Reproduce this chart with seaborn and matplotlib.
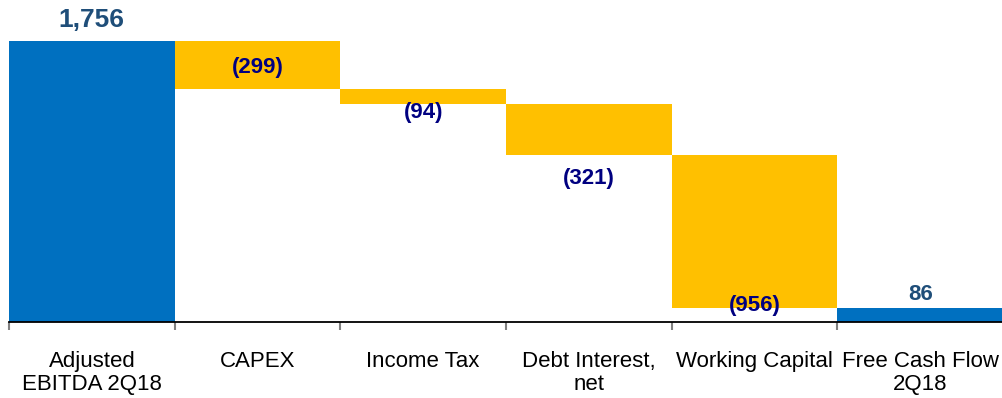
import matplotlib
matplotlib.use("Agg")
import matplotlib.pyplot as plt
import seaborn as sns
import numpy as np

categories = ["Adjusted\nEBITDA 2Q18", "CAPEX", "Income Tax", "Debt Interest,\nnet",
              "Working Capital", "Free Cash Flow\n2Q18"]
values = [1756, -299, -94, -321, -956, 86]
labels = ["1,756", "(299)", "(94)", "(321)", "(956)", "86"]
is_total = [True, False, False, False, False, True]

# label offsets in pixels (positive = up) from bar reference edge
label_offset_px = [21, 21, -9, -23, 3, 14]

sns.set_theme(style="white")
plt.rcParams["font.family"] = ["Liberation Sans", "DejaVu Sans"]

# waterfall geometry
bottoms, heights = [], []
running = 0
for v, tot in zip(values, is_total):
    if tot:
        bottoms.append(0)
        heights.append(v)
        running = v
    else:
        new = running + v
        bottoms.append(new)
        heights.append(-v)
        running = new

colors = ["#0070C0" if t else "#FFC000" for t in is_total]

fig = plt.figure(figsize=(10.03, 3.98), dpi=100)
ax = fig.add_axes([9 / 1003, (398 - 322) / 398, 1 - 9 / 1003, 322 / 398])

sns.barplot(x=categories, y=heights, bottom=bottoms, ax=ax, width=1.0,
            linewidth=0, color="#0070C0", saturation=1)
for p, c in zip(ax.patches, colors):
    p.set_facecolor(c)
    p.set_edgecolor("none")

ax.set_xlim(-0.5, len(categories) - 0.5)
ax.set_ylim(0, 1756 * 322 / 281)

for s in ["left", "top", "right"]:
    ax.spines[s].set_visible(False)
ax.spines["bottom"].set_color("black")
ax.spines["bottom"].set_linewidth(1.3)
ax.set_yticks([])

ax.set_xticks(range(len(categories)))
ax.set_xticklabels(categories, fontsize=16, color="black", linespacing=1.1)
ax.tick_params(axis="x", which="major", length=0, pad=21, bottom=True)
ax.set_xticks(np.arange(-0.5, len(categories) - 0.5, 1.0), minor=True)
ax.tick_params(axis="x", which="minor", length=6, width=1.5, color="#808080",
               direction="out", bottom=True)

for i, (b, h, lab, tot, off) in enumerate(zip(bottoms, heights, labels, is_total, label_offset_px)):
    if tot:
        ref = b + h
        col = "#1F4E79"
        fs = 19 if i == 0 else 16
    else:
        ref = b
        col = "#000080"
        fs = 16
    ax.annotate(lab, xy=(i, ref), xytext=(0, off * 72 / 100), textcoords="offset points",
                ha="center", va="center", fontsize=fs, fontweight="bold", color=col,
                annotation_clip=False)

ax.set_xlabel("")
ax.set_ylabel("")
fig.savefig("out.png", dpi=100)
